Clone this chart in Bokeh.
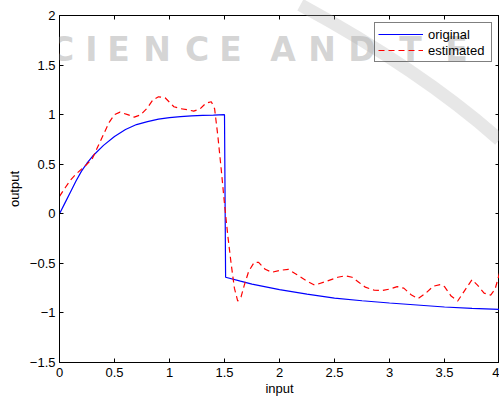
from bokeh.plotting import figure
from bokeh.models import Range1d, LinearAxis, FixedTicker, Label
from bokeh.embed import file_html
from bokeh.resources import INLINE

# ---- data ----
orig_x = [0, 0.05, 0.1, 0.15, 0.2, 0.25, 0.3, 0.4, 0.5, 0.6, 0.7, 0.8, 0.9, 1.0, 1.1, 1.2, 1.3, 1.4, 1.5,
          1.51, 1.645, 1.75, 2.0, 2.25, 2.5, 2.75, 3.0, 3.25, 3.5, 3.75, 4.0]
orig_y = [0, 0.11, 0.22, 0.33, 0.43, 0.51, 0.58, 0.69, 0.78, 0.85, 0.90, 0.93, 0.955, 0.97, 0.98, 0.988, 0.993, 0.996, 1.0,
          -0.64, -0.68, -0.71, -0.765, -0.81, -0.85, -0.877, -0.90, -0.92, -0.94, -0.955, -0.965]

est_x = [0, 0.05, 0.1, 0.15, 0.2, 0.25, 0.3, 0.35, 0.4, 0.45,
         0.5, 0.55, 0.62, 0.68, 0.74, 0.8, 0.85, 0.9, 0.96, 1.04,
         1.1, 1.16, 1.22, 1.28, 1.33, 1.38, 1.41, 1.44, 1.47, 1.5,
         1.53, 1.56, 1.59, 1.62, 1.65, 1.68, 1.72, 1.77, 1.81, 1.87,
         1.93, 2.01, 2.08, 2.16, 2.25, 2.32, 2.43, 2.53, 2.6, 2.66,
         2.72, 2.78, 2.86, 2.93, 3.0, 3.07, 3.13, 3.2, 3.26, 3.33,
         3.4, 3.46, 3.5, 3.56, 3.62, 3.68, 3.75, 3.8, 3.86, 3.92,
         3.96, 4.0]
est_y = [0.175, 0.26, 0.34, 0.40, 0.45, 0.50, 0.56, 0.68, 0.80, 0.92,
         1.0, 1.025, 1.0, 0.975, 1.0, 1.07, 1.15, 1.18, 1.17, 1.08,
         1.06, 1.05, 1.035, 1.06, 1.115, 1.13, 1.06, 0.78, 0.45, 0.1,
         -0.22, -0.50, -0.75, -0.88, -0.84, -0.72, -0.58, -0.49, -0.49, -0.56,
         -0.59, -0.57, -0.56, -0.615, -0.68, -0.72, -0.68, -0.64, -0.625, -0.64,
         -0.69, -0.74, -0.77, -0.775, -0.76, -0.735, -0.75, -0.82, -0.855, -0.80,
         -0.73, -0.715, -0.735, -0.83, -0.88, -0.78, -0.665, -0.72, -0.80, -0.82,
         -0.76, -0.6]

x_ticks = [0, 0.5, 1, 1.5, 2, 2.5, 3, 3.5, 4]
x_tick_labels = ["0", "0.5", "1", "1.5", "2", "2.5", "3", "3.5", "4"]
y_ticks = [-1.5, -1, -0.5, 0, 0.5, 1, 1.5, 2]
y_tick_labels = ["\u22121.5", "\u22121", "\u22120.5", "0", "0.5", "1", "1.5", "2"]

# watermark (decoration only): letter centres in canvas pixels, and a swoosh band
wm_letters = list("SCIENCEANDTE")
wm_px = [24, 61.5, 91, 118, 156.5, 196.5, 230, 282.5, 321.5, 361.5, 410, 456]
wm_y = 1.653
swoosh = dict(x0=2.19, y0=2.107, cx=3.28, cy=1.452, x1=4.0, y1=0.746)

FONT = "Liberation Sans"

p = figure(width=499, height=398, x_range=Range1d(0, 4), y_range=Range1d(-1.5, 2),
           output_backend="svg", toolbar_location=None,
           min_border_left=59, min_border_right=0, min_border_top=15, min_border_bottom=35,
           background_fill_color="white", border_fill_color="white")
p.grid.visible = False
p.outline_line_color = "black"
p.outline_line_width = 1

p.line(orig_x, orig_y, line_color="#0000ff", line_width=1.2, legend_label="original")
p.line(est_x, est_y, line_color="#ff0000", line_width=1.2, line_dash="6 4", legend_label="estimated")

def style_axis(ax, ticks, labels=None):
    ax.ticker = FixedTicker(ticks=ticks)
    ax.major_tick_in = 4
    ax.major_tick_out = 0
    ax.minor_tick_in = 0
    ax.minor_tick_out = 0
    ax.axis_line_color = "black"
    ax.major_tick_line_color = "black"
    ax.major_label_text_font = FONT
    ax.major_label_text_font_size = "13px"
    ax.major_label_text_color = "black"
    ax.axis_label_text_font = FONT
    ax.axis_label_text_font_size = "13px"
    ax.axis_label_text_font_style = "normal"
    ax.axis_label_text_color = "black"
    if labels is not None:
        ax.major_label_overrides = {t: l for t, l in zip(ticks, labels)}

xa = p.xaxis[0]
style_axis(xa, x_ticks, x_tick_labels)
xa.axis_label = "input"
xa.major_label_standoff = 5
xa.axis_label_standoff = 1

ya = p.yaxis[0]
style_axis(ya, y_ticks, y_tick_labels)
ya.axis_label = "output"
ya.major_label_standoff = 4
ya.axis_label_standoff = 5

top = LinearAxis()
style_axis(top, x_ticks)
top.major_label_text_font_size = "1px"
top.major_label_text_color = None
top.major_label_standoff = 0
p.add_layout(top, "above")

right = LinearAxis()
style_axis(right, y_ticks)
right.major_label_text_font_size = "1px"
right.major_label_text_color = None
right.major_label_standoff = 0
p.add_layout(right, "right")

lg = p.legend[0]
lg.location = "top_right"
lg.margin = 7
lg.padding = 3
lg.spacing = 0
lg.glyph_width = 45
lg.glyph_height = 16
lg.label_height = 16
lg.label_width = 60
lg.label_standoff = 5
lg.label_text_font = FONT
lg.label_text_font_size = "13px"
lg.label_text_color = "black"
lg.border_line_color = "black"
lg.border_line_width = 1
lg.background_fill_color = "white"
lg.background_fill_alpha = 0

sw = p.quadratic(x0=[swoosh["x0"]], y0=[swoosh["y0"]], cx=[swoosh["cx"]], cy=[swoosh["cy"]],
                 x1=[swoosh["x1"]], y1=[swoosh["y1"]], line_color="#b0b0b0", line_alpha=0.3,
                 line_width=13)
sw.level = "overlay"

for ch, px in zip(wm_letters, wm_px):
    p.add_layout(Label(x=px, y=wm_y, x_units="canvas", text=ch, text_align="center",
                       text_baseline="alphabetic",
                       text_font="DejaVu Sans", text_font_style="bold", text_font_size="33px",
                       text_color="#b0b0b0", text_alpha=0.55, level="overlay"))

open("out.html", "w").write(file_html(p, INLINE))
